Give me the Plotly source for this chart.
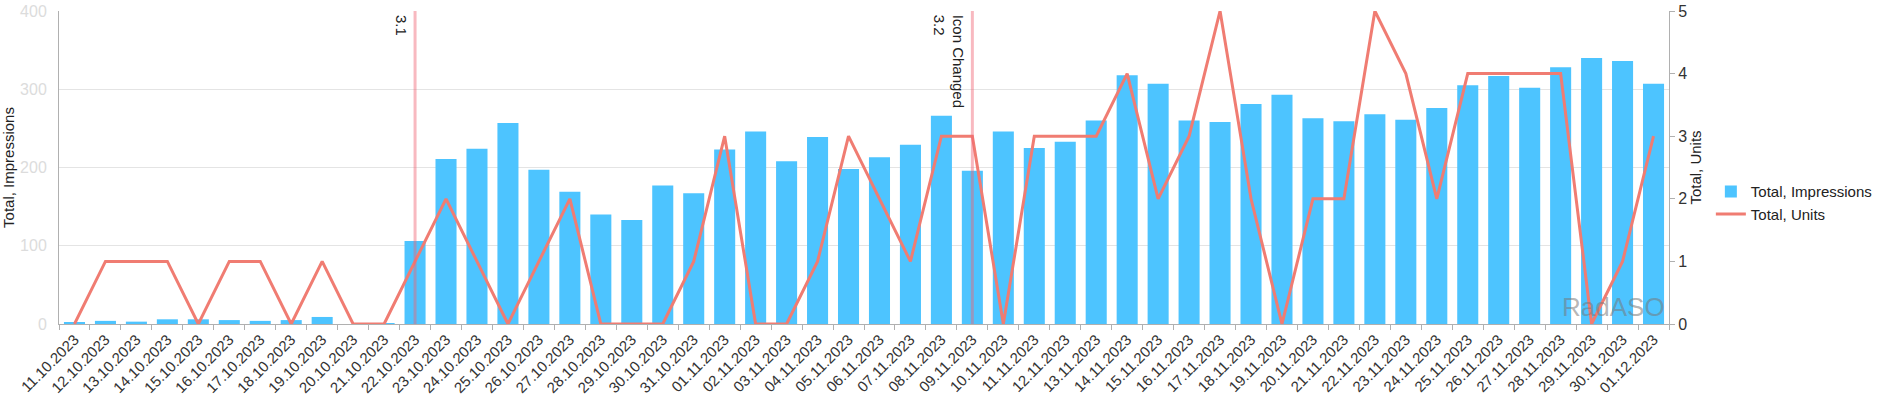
import plotly.graph_objects as go

dates = [
    "11.10.2023", "12.10.2023", "13.10.2023", "14.10.2023", "15.10.2023", "16.10.2023",
    "17.10.2023", "18.10.2023", "19.10.2023", "20.10.2023", "21.10.2023", "22.10.2023",
    "23.10.2023", "24.10.2023", "25.10.2023", "26.10.2023", "27.10.2023", "28.10.2023",
    "29.10.2023", "30.10.2023", "31.10.2023", "01.11.2023", "02.11.2023", "03.11.2023",
    "04.11.2023", "05.11.2023", "06.11.2023", "07.11.2023", "08.11.2023", "09.11.2023",
    "10.11.2023", "11.11.2023", "12.11.2023", "13.11.2023", "14.11.2023", "15.11.2023",
    "16.11.2023", "17.11.2023", "18.11.2023", "19.11.2023", "20.11.2023", "21.11.2023",
    "22.11.2023", "23.11.2023", "24.11.2023", "25.11.2023", "26.11.2023", "27.11.2023",
    "28.11.2023", "29.11.2023", "30.11.2023", "01.12.2023",
]

impressions = [
    2, 4, 3, 6, 6, 5, 4, 5, 9, 0, 1, 106,
    211, 224, 257, 197, 169, 140, 133, 177, 167, 223, 246, 208,
    239, 198, 213, 229, 266, 196, 246, 225, 233, 260, 318, 307,
    260, 258, 281, 293, 263, 259, 268, 261, 276, 305, 317, 302,
    328, 340, 336, 307,
]

units = [
    0, 1, 1, 1, 0, 1, 1, 0, 1, 0, 0, 1,
    2, 1, 0, 1, 2, 0, 0, 0, 1, 3, 0, 0,
    1, 3, 2, 1, 3, 3, 0, 3, 3, 3, 4, 2,
    3, 5, 2, 0, 2, 2, 5, 4, 2, 4, 4, 4,
    4, 0, 1, 3,
]

event_dates = ["22.10.2023", "09.11.2023"]
event_labels = ["3.1", "Icon Changed<br>3.2"]

impr_ticks = [0, 100, 200, 300, 400]
unit_ticks = [0, 1, 2, 3, 4, 5]

FONT = "Liberation Sans, Arial, sans-serif"
AXIS_GRAY = "#b0b0b0"

fig = go.Figure()
fig.add_trace(go.Bar(
    x=dates, y=impressions, name="Total, Impressions",
    marker=dict(color="#4dc4ff", line=dict(width=0)),
    yaxis="y",
))
fig.add_trace(go.Scatter(
    x=dates, y=units, name="Total, Units", mode="lines",
    line=dict(color="rgb(240,124,114)", width=3),
    yaxis="y2",
))

for d, lab in zip(event_dates, event_labels):
    fig.add_shape(type="line", xref="x", yref="paper", x0=d, x1=d, y0=0, y1=1,
                  line=dict(color="rgba(240,100,115,0.45)", width=3), layer="above")
    fig.add_annotation(x=d, xref="x", y=1, yref="paper", text=lab, textangle=90,
                       showarrow=False, xanchor="right", yanchor="top", align="left",
                       xshift=-3, yshift=-2,
                       font=dict(family=FONT, size=15, color="#222222"))

fig.add_annotation(x=1, xref="paper", y=0, yref="paper", text="RadASO",
                   showarrow=False, xanchor="right", yanchor="bottom", xshift=-2,
                   font=dict(family=FONT, size=26, color="rgba(120,120,120,0.55)"))

fig.update_layout(
    template="none",
    width=1880, height=405,
    margin=dict(l=59, r=211, t=11, b=81, autoexpand=False),
    paper_bgcolor="white", plot_bgcolor="white",
    font=dict(family=FONT, color="#333333"),
    bargap=0.32,
    showlegend=True,
    legend=dict(x=1.026, xanchor="left", y=0.3875, yanchor="middle",
                font=dict(family=FONT, size=15, color="#222222"),
                bgcolor="rgba(0,0,0,0)", borderwidth=0, tracegroupgap=0),
    xaxis=dict(
        type="category", categoryorder="array", categoryarray=dates,
        range=[-0.5, len(dates) - 0.5], automargin=False,
        tickson="boundaries", ticks="outside", ticklen=5, tickcolor=AXIS_GRAY,
        showline=True, linecolor=AXIS_GRAY, linewidth=1,
        showgrid=False, zeroline=False, tickangle=-45,
        tickfont=dict(family=FONT, size=15, color="#333333"),
    ),
    yaxis=dict(
        range=[0, 400], tickvals=impr_ticks, automargin=False,
        showgrid=True, gridcolor="#e4e4e4", gridwidth=1,
        showline=True, linecolor=AXIS_GRAY, zeroline=False,
        ticks="", ticklabelstandoff=8,
        tickfont=dict(family=FONT, size=16, color="#dcdcdc"),
        title=dict(text="Total, Impressions", font=dict(family=FONT, size=15, color="#222222"), standoff=2),
    ),
    yaxis2=dict(
        overlaying="y", side="right", range=[0, 5], tickvals=unit_ticks, automargin=False,
        showgrid=False, showline=True, linecolor=AXIS_GRAY, zeroline=False,
        ticks="outside", ticklen=5, tickcolor=AXIS_GRAY,
        tickfont=dict(family=FONT, size=16, color="#333333"),
        title=dict(text="Total, Units", font=dict(family=FONT, size=15, color="#222222"), standoff=2),
    ),
)

fig.write_html("out.html")
